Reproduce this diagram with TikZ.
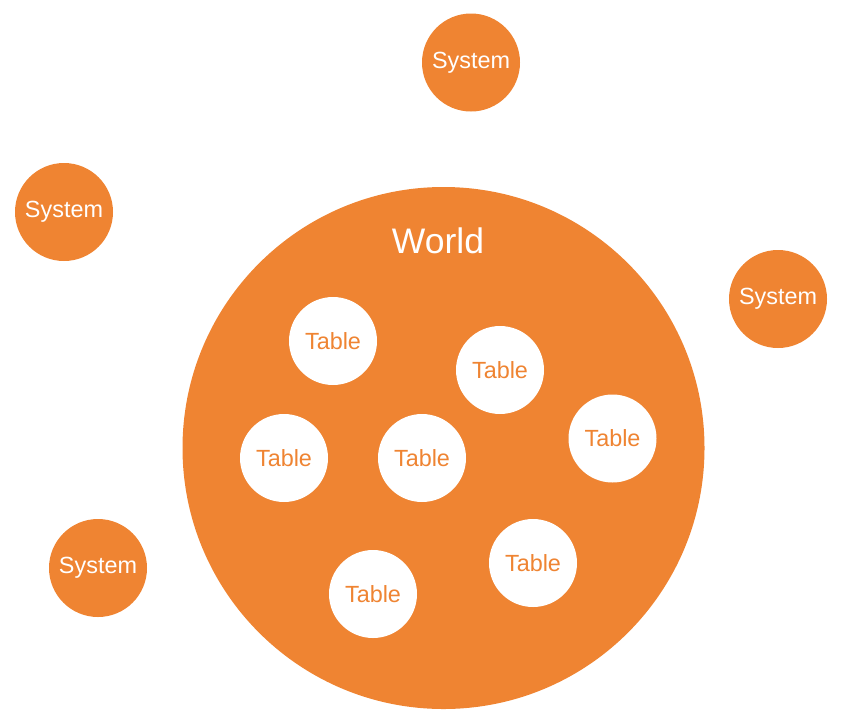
\documentclass[tikz,border=0pt]{standalone}
\usepackage{fontspec}
\setmainfont{Liberation Sans}
\definecolor{orng}{HTML}{EF8432}
\begin{document}
\begin{tikzpicture}[x=1pt,y=-1pt,
  sysnode/.style={circle,fill=orng,minimum size=98pt,inner sep=0pt,text=white,font=\fontsize{23.4}{26}\selectfont},
  tblnode/.style={circle,fill=white,minimum size=88pt,inner sep=0pt,text=orng,font=\fontsize{23.4}{26}\selectfont},
  worldnode/.style={circle,fill=orng,minimum size=522pt,inner sep=0pt}]
\useasboundingbox (0,0) rectangle (842,726);
\node[worldnode] (world) at (443.5,448) {};
\node[text=white,font=\fontsize{35.5}{40}\selectfont,anchor=base] (wlabel) at (438,253) {World};
\node[sysnode] (s1) at (471,62.5) {System};
\node[sysnode] (s2) at (64,212) {System};
\node[sysnode] (s3) at (778,299) {System};
\node[sysnode] (s4) at (98,568) {System};
\node[tblnode] (t1) at (333,341) {Table};
\node[tblnode] (t2) at (500,370) {Table};
\node[tblnode] (t3) at (284,458) {Table};
\node[tblnode] (t4) at (422,458) {Table};
\node[tblnode] (t5) at (612.5,438.5) {Table};
\node[tblnode] (t6) at (533,563) {Table};
\node[tblnode] (t7) at (373,594) {Table};
\end{tikzpicture}
\end{document}
